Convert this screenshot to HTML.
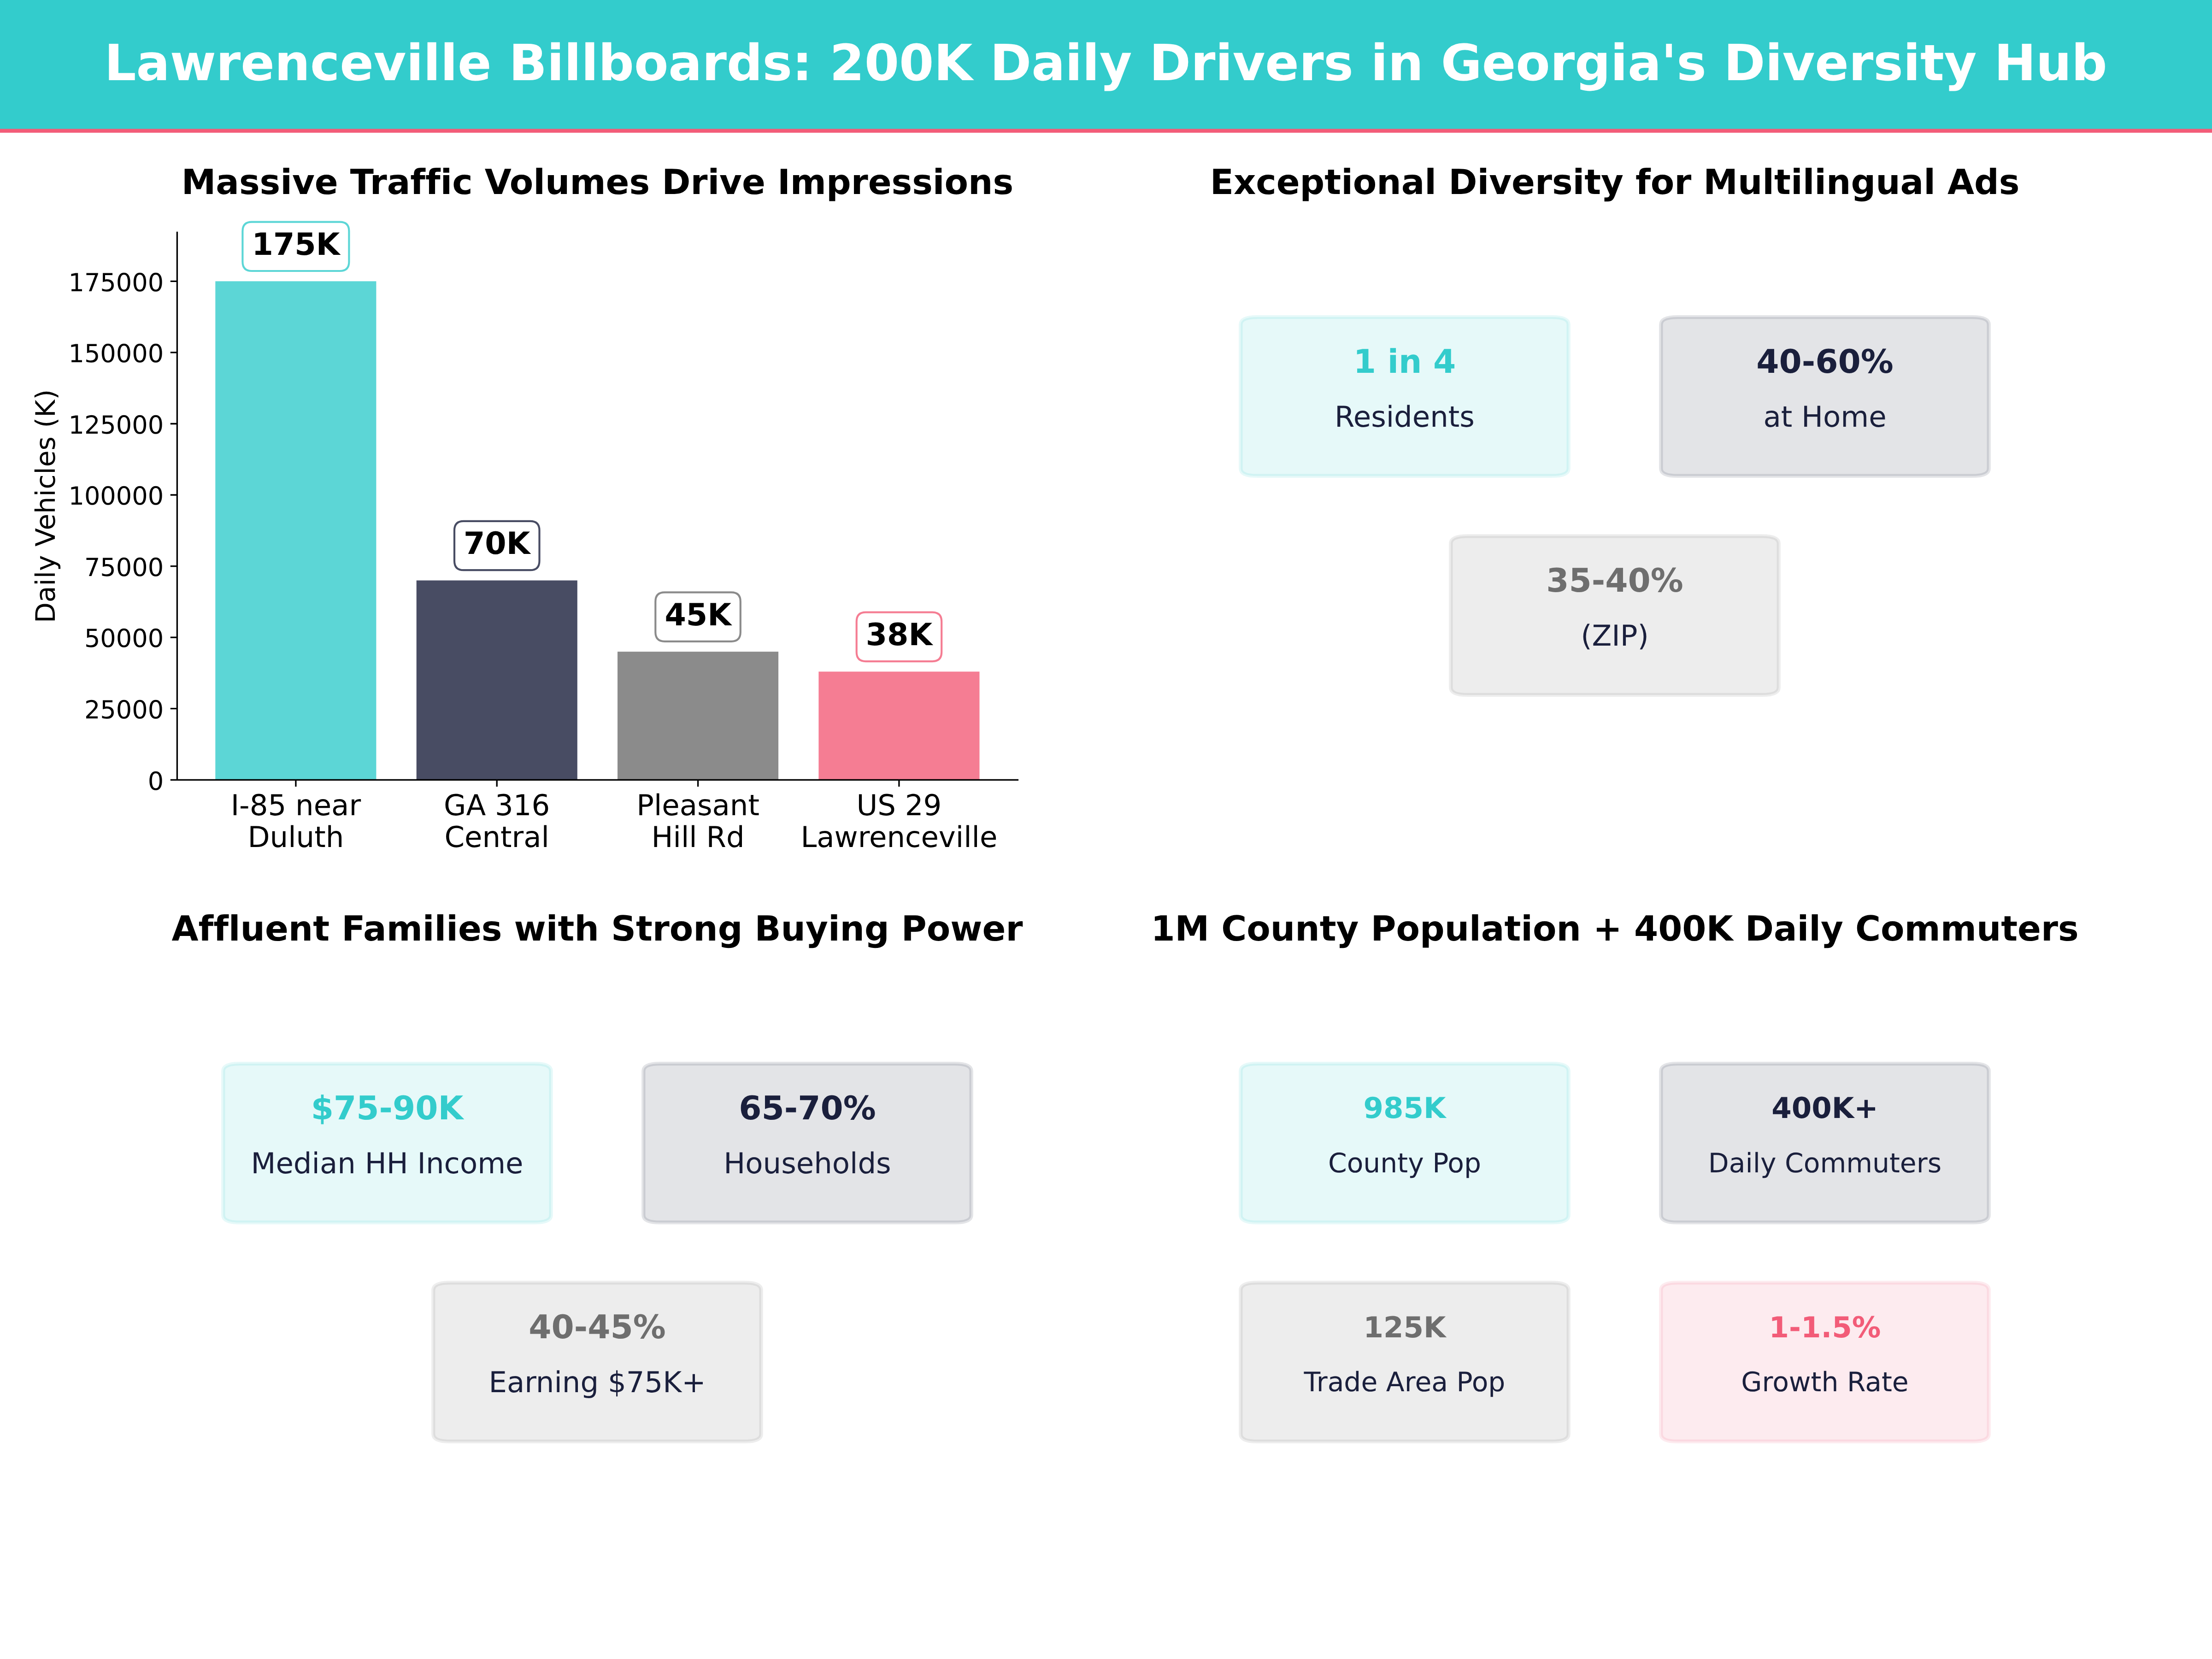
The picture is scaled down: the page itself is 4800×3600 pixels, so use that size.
<!DOCTYPE html>
<html lang="en"><head><meta charset="utf-8"><title>Lawrenceville Billboards</title>
<style>
html,body{margin:0;padding:0;background:#fff;}
body{width:4800px;height:3600px;overflow:hidden;}
svg{display:block;font-family:"DejaVu Sans","Liberation Sans",sans-serif;font-variant-ligatures:none;font-kerning:normal;text-rendering:geometricPrecision;}
.b{font-weight:bold;}
.m{text-anchor:middle;}
.e{text-anchor:end;}
</style></head><body>
<svg width="4800" height="3600" viewBox="0 0 4800 3600">
<rect x="0" y="0" width="4800" height="3600" fill="#fff"/>
<rect x="0" y="0" width="4800" height="288" fill="#33CCCC"/>
<rect x="0" y="279.6" width="4800" height="8.4" fill="#F25C78"/>
<text class="b m" x="2399.6" y="173.9" font-size="108.41" fill="#fff">Lawrenceville Billboards: 200K Daily Drivers in Georgia's Diversity Hub</text>
<text class="b m" x="1296.4" y="421.4" font-size="75" fill="#000">Massive Traffic Volumes Drive Impressions</text>
<text class="b m" x="3504.0" y="421.0" font-size="75" fill="#000">Exceptional Diversity for Multilingual Ads</text>
<text class="b m" x="1296.0" y="2041.0" font-size="75" fill="#000">Affluent Families with Strong Buying Power</text>
<text class="b m" x="3504.0" y="2041.0" font-size="75" fill="#000">1M County Population + 400K Daily Commuters</text>
<rect x="467.3" y="610.3" width="349.1" height="1082.0" fill="#33CCCC" fill-opacity="0.8"/>
<rect x="903.7" y="1259.5" width="349.1" height="432.8" fill="#1A1F3C" fill-opacity="0.8"/>
<rect x="1340.0" y="1414.1" width="349.1" height="278.2" fill="#6e6e6e" fill-opacity="0.8"/>
<rect x="1776.4" y="1457.4" width="349.1" height="234.9" fill="#F25C78" fill-opacity="0.8"/>
<path d="M384.4 502.7V1694.1M382.7 1692.4H2210.1" stroke="#000" stroke-width="3.33" fill="none"/>
<path d="M369.8 1692.3H384.4M369.8 1537.7H384.4M369.8 1383.2H384.4M369.8 1228.6H384.4M369.8 1074.0H384.4M369.8 919.5H384.4M369.8 764.9H384.4M369.8 610.3H384.4M641.9 1692.4V1707.0M1078.2 1692.4V1707.0M1514.6 1692.4V1707.0M1950.9 1692.4V1707.0" stroke="#000" stroke-width="3.33" fill="none"/>
<text class="e" x="355.2" y="1713.5" font-size="54.17" fill="#000">0</text>
<text class="e" x="355.2" y="1558.9" font-size="54.17" fill="#000">25000</text>
<text class="e" x="355.2" y="1404.4" font-size="54.17" fill="#000">50000</text>
<text class="e" x="355.2" y="1249.8" font-size="54.17" fill="#000">75000</text>
<text class="e" x="355.2" y="1095.2" font-size="54.17" fill="#000">100000</text>
<text class="e" x="355.2" y="940.7" font-size="54.17" fill="#000">125000</text>
<text class="e" x="355.2" y="786.1" font-size="54.17" fill="#000">150000</text>
<text class="e" x="355.2" y="631.5" font-size="54.17" fill="#000">175000</text>
<text class="m" x="641.9" y="1768.6" font-size="62.5" fill="#000">I-85 near</text>
<text class="m" x="641.9" y="1838.4" font-size="62.5" fill="#000">Duluth</text>
<text class="m" x="1078.2" y="1768.6" font-size="62.5" fill="#000">GA 316</text>
<text class="m" x="1078.2" y="1838.4" font-size="62.5" fill="#000">Central</text>
<text class="m" x="1514.6" y="1768.6" font-size="62.5" fill="#000">Pleasant</text>
<text class="m" x="1514.6" y="1838.4" font-size="62.5" fill="#000">Hill Rd</text>
<text class="m" x="1950.9" y="1768.6" font-size="62.5" fill="#000">US 29</text>
<text class="m" x="1950.9" y="1838.4" font-size="62.5" fill="#000">Lawrenceville</text>
<text class="m" transform="translate(119.3 1098.4) rotate(-90)" font-size="58.33" fill="#000">Daily Vehicles (K)</text>
<path d="M546.4 481.6H737.4Q757.4 481.6 757.4 501.6V568.0Q757.4 588.0 737.4 588.0H546.4Q526.4 588.0 526.4 568.0V501.6Q526.4 481.6 546.4 481.6Z" fill="#fff" stroke="#33CCCC" stroke-opacity="0.8" stroke-width="4.17"/>
<text class="b m" x="641.9" y="552.9" font-size="66.67" fill="#000">175K</text>
<path d="M1006.0 1130.8H1150.5Q1170.5 1130.8 1170.5 1150.8V1217.2Q1170.5 1237.2 1150.5 1237.2H1006.0Q986.0 1237.2 986.0 1217.2V1150.8Q986.0 1130.8 1006.0 1130.8Z" fill="#fff" stroke="#1A1F3C" stroke-opacity="0.8" stroke-width="4.17"/>
<text class="b m" x="1078.2" y="1202.1" font-size="66.67" fill="#000">70K</text>
<path d="M1442.3 1285.4H1586.8Q1606.8 1285.4 1606.8 1305.4V1371.8Q1606.8 1391.8 1586.8 1391.8H1442.3Q1422.3 1391.8 1422.3 1371.8V1305.4Q1422.3 1285.4 1442.3 1285.4Z" fill="#fff" stroke="#6e6e6e" stroke-opacity="0.8" stroke-width="4.17"/>
<text class="b m" x="1514.6" y="1356.7" font-size="66.67" fill="#000">45K</text>
<path d="M1878.7 1328.7H2023.2Q2043.2 1328.7 2043.2 1348.7V1415.1Q2043.2 1435.1 2023.2 1435.1H1878.7Q1858.7 1435.1 1858.7 1415.1V1348.7Q1858.7 1328.7 1878.7 1328.7Z" fill="#fff" stroke="#F25C78" stroke-opacity="0.8" stroke-width="4.17"/>
<text class="b m" x="1950.9" y="1400.0" font-size="66.67" fill="#000">38K</text>
<path d="M2728.3 688.1H3367.7Q3403.7 688.1 3403.7 704.1V1016.7Q3403.7 1032.7 3367.7 1032.7H2728.3Q2692.3 1032.7 2692.3 1016.7V704.1Q2692.3 688.1 2728.3 688.1Z" fill="#33CCCC" fill-opacity="0.12" stroke="#33CCCC" stroke-opacity="0.12" stroke-width="8.33"/>
<text class="b m" x="3048.0" y="808.8" font-size="70.83" fill="#33CCCC">1 in 4</text>
<text class="m" x="3048.0" y="925.9" font-size="62.5" fill="#1A1F3C">Residents</text>
<path d="M3640.3 688.1H4279.7Q4315.7 688.1 4315.7 704.1V1016.7Q4315.7 1032.7 4279.7 1032.7H3640.3Q3604.3 1032.7 3604.3 1016.7V704.1Q3604.3 688.1 3640.3 688.1Z" fill="#1A1F3C" fill-opacity="0.12" stroke="#1A1F3C" stroke-opacity="0.12" stroke-width="8.33"/>
<text class="b m" x="3960.0" y="808.8" font-size="70.83" fill="#1A1F3C">40-60%</text>
<text class="m" x="3960.0" y="925.9" font-size="62.5" fill="#1A1F3C">at Home</text>
<path d="M3184.3 1163.3H3823.7Q3859.7 1163.3 3859.7 1179.3V1491.9Q3859.7 1507.9 3823.7 1507.9H3184.3Q3148.3 1507.9 3148.3 1491.9V1179.3Q3148.3 1163.3 3184.3 1163.3Z" fill="#6e6e6e" fill-opacity="0.12" stroke="#6e6e6e" stroke-opacity="0.12" stroke-width="8.33"/>
<text class="b m" x="3504.0" y="1284.0" font-size="70.83" fill="#6e6e6e">35-40%</text>
<text class="m" x="3504.0" y="1401.1" font-size="62.5" fill="#1A1F3C">(ZIP)</text>
<path d="M520.3 2308.1H1159.7Q1195.7 2308.1 1195.7 2324.1V2636.7Q1195.7 2652.7 1159.7 2652.7H520.3Q484.3 2652.7 484.3 2636.7V2324.1Q484.3 2308.1 520.3 2308.1Z" fill="#33CCCC" fill-opacity="0.12" stroke="#33CCCC" stroke-opacity="0.12" stroke-width="8.33"/>
<text class="b m" x="840.0" y="2428.8" font-size="70.83" fill="#33CCCC">$75-90K</text>
<text class="m" x="840.0" y="2545.9" font-size="62.5" fill="#1A1F3C">Median HH Income</text>
<path d="M1432.3 2308.1H2071.7Q2107.7 2308.1 2107.7 2324.1V2636.7Q2107.7 2652.7 2071.7 2652.7H1432.3Q1396.3 2652.7 1396.3 2636.7V2324.1Q1396.3 2308.1 1432.3 2308.1Z" fill="#1A1F3C" fill-opacity="0.12" stroke="#1A1F3C" stroke-opacity="0.12" stroke-width="8.33"/>
<text class="b m" x="1752.0" y="2428.8" font-size="70.83" fill="#1A1F3C">65-70%</text>
<text class="m" x="1752.0" y="2545.9" font-size="62.5" fill="#1A1F3C">Households</text>
<path d="M976.3 2783.3H1615.7Q1651.7 2783.3 1651.7 2799.3V3111.9Q1651.7 3127.9 1615.7 3127.9H976.3Q940.3 3127.9 940.3 3111.9V2799.3Q940.3 2783.3 976.3 2783.3Z" fill="#6e6e6e" fill-opacity="0.12" stroke="#6e6e6e" stroke-opacity="0.12" stroke-width="8.33"/>
<text class="b m" x="1296.0" y="2904.0" font-size="70.83" fill="#6e6e6e">40-45%</text>
<text class="m" x="1296.0" y="3021.1" font-size="62.5" fill="#1A1F3C">Earning $75K+</text>
<path d="M2728.3 2308.1H3367.7Q3403.7 2308.1 3403.7 2324.1V2636.7Q3403.7 2652.7 3367.7 2652.7H2728.3Q2692.3 2652.7 2692.3 2636.7V2324.1Q2692.3 2308.1 2728.3 2308.1Z" fill="#33CCCC" fill-opacity="0.12" stroke="#33CCCC" stroke-opacity="0.12" stroke-width="8.33"/>
<text class="b m" x="3048.0" y="2426.3" font-size="62.5" fill="#33CCCC">985K</text>
<text class="m" x="3048.0" y="2543.9" font-size="58.33" fill="#1A1F3C">County Pop</text>
<path d="M3640.3 2308.1H4279.7Q4315.7 2308.1 4315.7 2324.1V2636.7Q4315.7 2652.7 4279.7 2652.7H3640.3Q3604.3 2652.7 3604.3 2636.7V2324.1Q3604.3 2308.1 3640.3 2308.1Z" fill="#1A1F3C" fill-opacity="0.12" stroke="#1A1F3C" stroke-opacity="0.12" stroke-width="8.33"/>
<text class="b m" x="3960.0" y="2426.3" font-size="62.5" fill="#1A1F3C">400K+</text>
<text class="m" x="3960.0" y="2543.9" font-size="58.33" fill="#1A1F3C">Daily Commuters</text>
<path d="M2728.3 2783.3H3367.7Q3403.7 2783.3 3403.7 2799.3V3111.9Q3403.7 3127.9 3367.7 3127.9H2728.3Q2692.3 3127.9 2692.3 3111.9V2799.3Q2692.3 2783.3 2728.3 2783.3Z" fill="#6e6e6e" fill-opacity="0.12" stroke="#6e6e6e" stroke-opacity="0.12" stroke-width="8.33"/>
<text class="b m" x="3048.0" y="2901.5" font-size="62.5" fill="#6e6e6e">125K</text>
<text class="m" x="3048.0" y="3019.1" font-size="58.33" fill="#1A1F3C">Trade Area Pop</text>
<path d="M3640.3 2783.3H4279.7Q4315.7 2783.3 4315.7 2799.3V3111.9Q4315.7 3127.9 4279.7 3127.9H3640.3Q3604.3 3127.9 3604.3 3111.9V2799.3Q3604.3 2783.3 3640.3 2783.3Z" fill="#F25C78" fill-opacity="0.12" stroke="#F25C78" stroke-opacity="0.12" stroke-width="8.33"/>
<text class="b m" x="3960.0" y="2901.5" font-size="62.5" fill="#F25C78">1-1.5%</text>
<text class="m" x="3960.0" y="3019.1" font-size="58.33" fill="#1A1F3C">Growth Rate</text>
</svg></body></html>
